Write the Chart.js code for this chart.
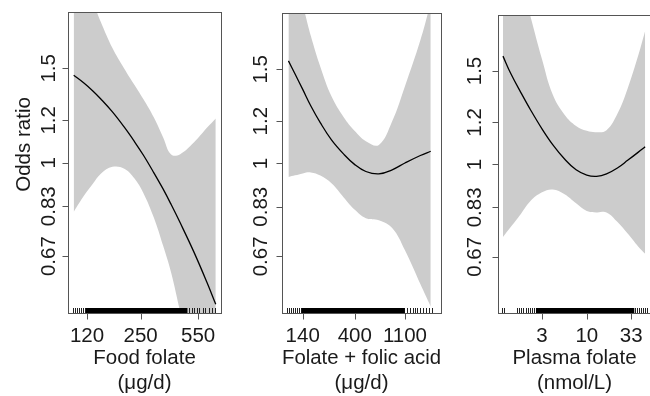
<!DOCTYPE html>
<html>
<head>
<meta charset="utf-8">
<script src="https://cdn.jsdelivr.net/npm/chart.js@4"></script>
<style>
  html, body { margin: 0; padding: 0; background: #fff; overflow: hidden; }
  #wrap { position: relative; width: 650px; height: 396px; overflow: hidden; }
  canvas { position: absolute; top: 0; }
</style>
</head>
<body>
<div id="wrap">
  <canvas id="food" width="230" height="396" style="left:0px"></canvas>
  <canvas id="total" width="225" height="396" style="left:225px"></canvas>
  <canvas id="plasma" width="220" height="396" style="left:440px"></canvas>
</div>
<script>
// odds ratio axis (log)
const yTicks = [0.67, 0.83, 1, 1.2, 1.5];
const yRange = [0.525, 1.91];

// food folate (µg/d)
const foodX = [100, 115, 130, 145, 170, 200, 230, 260, 300, 340, 380, 430, 520, 620, 700];
const foodOR = [1.456, 1.408, 1.361, 1.315, 1.244, 1.165, 1.095, 1.033, 0.958, 0.894, 0.836, 0.773, 0.681, 0.599, 0.545];
const foodUpper = [2.45, 2.19, 1.995, 1.83, 1.637, 1.498, 1.396, 1.313, 1.214, 1.116, 1.036, 1.038, 1.092, 1.162, 1.21];
const foodLower = [0.81, 0.868, 0.914, 0.954, 0.983, 0.975, 0.935, 0.878, 0.79, 0.701, 0.624, 0.528, 0.415, 0.36, 0.33];
const foodTicks = [120, 250, 550];
const foodRange = [92.5, 752];
const foodRug = [99, 102, 105, 108, 111, 114, 116.5, 487, 506, 522, 539, 559, 586, 607, 636, 662, 693];
const foodRugDense = [118, 475];

// folate + folic acid (µg/d)
const totalX = [105, 120, 140, 165, 200, 250, 320, 400, 500, 650, 850, 1100, 1500, 1850];
const totalOR = [1.556, 1.47, 1.376, 1.281, 1.191, 1.107, 1.041, 0.995, 0.966, 0.956, 0.973, 1.002, 1.035, 1.054];
const totalUpper = [2.44, 2.21, 1.98, 1.732, 1.516, 1.336, 1.221, 1.15, 1.101, 1.083, 1.199, 1.395, 1.7, 2.0];
const totalLower = [0.943, 0.95, 0.958, 0.962, 0.949, 0.918, 0.864, 0.819, 0.79, 0.783, 0.757, 0.688, 0.595, 0.54];
const totalTicks = [140, 400, 1100];
const totalRange = [92.2, 2275];
const totalRug = [102.6, 106.8, 111.3, 115.8, 120.6, 125.6, 130.7, 134.5, 1140, 1218, 1286, 1347, 1411, 1490, 1573, 1671, 1775, 1886];
const totalRugDense = [137, 1100];

// plasma folate (nmol/L)
const plasmaX = [1.05, 1.3, 1.7, 2.2, 3, 4, 5.5, 7.5, 10, 13, 17, 23, 30, 40, 48];
const plasmaOR = [1.6, 1.482, 1.366, 1.268, 1.167, 1.09, 1.024, 0.977, 0.955, 0.95, 0.96, 0.986, 1.018, 1.055, 1.08];
const plasmaUpper = [3.0, 2.62, 2.22, 1.9, 1.578, 1.354, 1.241, 1.182, 1.157, 1.15, 1.16, 1.25, 1.391, 1.608, 1.785];
const plasmaLower = [0.73, 0.763, 0.807, 0.853, 0.886, 0.897, 0.879, 0.845, 0.817, 0.812, 0.812, 0.778, 0.741, 0.7, 0.679];
const plasmaTicks = [3, 10, 33];
const plasmaRange = [0.919, 56.2];
const plasmaRug = [1.02, 1.08, 1.52, 1.6, 1.69, 1.79, 1.95, 2.06, 2.17, 2.29, 2.42, 2.55, 36.8, 38.9, 41.0, 43.3, 45.7, 48.2, 50.9];
const plasmaRugDense = [2.55, 35.9];

const fontFamily = "'Liberation Sans', Arial, sans-serif";
Chart.defaults.font.family = fontFamily;
Chart.defaults.font.size = 20.5;
Chart.defaults.color = '#1a1a1a';

const bandColor = '#cccccc';
const boxColor = '#555';

// R-style box round the plot region, with the tick marks
const boxPlugin = {
  id: 'box',
  afterDraw(chart) {
    const a = chart.chartArea;
    const ctx = chart.ctx;
    const left = Math.round(a.left) + 0.5;
    const bottom = Math.round(a.bottom) + 0.5;
    ctx.save();
    ctx.strokeStyle = boxColor;
    ctx.lineWidth = 1;
    ctx.strokeRect(left, Math.round(a.top) + 0.5,
      Math.round(a.right - a.left), Math.round(a.bottom - a.top));
    ctx.beginPath();
    chart.scales.x.ticks.forEach(t => {
      const px = Math.round(chart.scales.x.getPixelForValue(t.value)) + 0.5;
      ctx.moveTo(px, bottom);
      ctx.lineTo(px, bottom + 6);
    });
    chart.scales.y.ticks.forEach(t => {
      const py = Math.round(chart.scales.y.getPixelForValue(t.value)) + 0.5;
      ctx.moveTo(left, py);
      ctx.lineTo(left - 6, py);
    });
    ctx.stroke();
    ctx.restore();
  }
};

// rug of observations along the x axis
const rugPlugin = {
  id: 'rug',
  afterDatasetsDraw(chart, args, opts) {
    const ctx = chart.ctx;
    const x = chart.scales.x;
    const bottom = chart.chartArea.bottom;
    const h = 5;
    ctx.save();
    ctx.strokeStyle = '#222';
    ctx.lineWidth = 1;
    ctx.beginPath();
    opts.values.forEach(v => {
      const px = Math.round(x.getPixelForValue(v)) + 0.5;
      ctx.moveTo(px, bottom);
      ctx.lineTo(px, bottom - h);
    });
    ctx.stroke();
    const a = x.getPixelForValue(opts.dense[0]);
    const b = x.getPixelForValue(opts.dense[1]);
    ctx.fillStyle = '#000';
    ctx.fillRect(a, bottom - h, b - a, h);
    ctx.restore();
  }
};

// y axis title, placed a little above the middle of the axis as in the original
const yTitlePlugin = {
  id: 'yTitle',
  afterDraw(chart, args, opts) {
    if (!opts.text) return;
    const ctx = chart.ctx;
    const a = chart.chartArea;
    ctx.save();
    ctx.translate(opts.x, a.top + (a.bottom - a.top) * opts.pos);
    ctx.rotate(-Math.PI / 2);
    ctx.textAlign = 'center';
    ctx.textBaseline = 'middle';
    ctx.fillStyle = Chart.defaults.color;
    ctx.font = '20.5px ' + fontFamily;
    ctx.fillText(opts.text, 0, 0);
    ctx.restore();
  }
};

function points(xs, ys) {
  return xs.map((x, i) => ({ x: x, y: ys[i] }));
}

function makePanel(id, xs, or, lower, upper, xTicks, xRange, rug, rugDense, xTitle, yWidth, yTitle, yPad) {
  new Chart(document.getElementById(id), {
    type: 'line',
    data: {
      datasets: [
        {
          data: points(xs, or),
          fill: false,
          borderColor: '#000',
          borderWidth: 1.3,
          pointRadius: 0,
          tension: 0.4
        },
        {
          data: points(xs, upper),
          fill: '+1',
          backgroundColor: bandColor,
          borderColor: 'transparent',
          borderWidth: 0,
          pointRadius: 0,
          tension: 0.4
        },
        {
          data: points(xs, lower),
          fill: false,
          borderColor: 'transparent',
          borderWidth: 0,
          pointRadius: 0,
          tension: 0.4
        }
      ]
    },
    options: {
      responsive: false,
      animation: false,
      events: [],
      layout: { padding: { top: 12, right: 9, left: 0, bottom: 0 } },
      plugins: {
        legend: { display: false },
        tooltip: { enabled: false },
        rug: { values: rug, dense: rugDense },
        yTitle: { text: yTitle, x: 24, pos: 0.44 }
      },
      scales: {
        x: {
          type: 'logarithmic',
          min: xRange[0],
          max: xRange[1],
          afterBuildTicks: scale => { scale.ticks = xTicks.map(v => ({ value: v })); },
          afterFit: scale => { scale.height = 83; },
          border: { display: false },
          grid: { display: false, drawTicks: false, tickLength: 6 },
          ticks: {
            autoSkip: false,
            maxRotation: 0,
            minRotation: 0,
            padding: 11,
            callback: v => String(v)
          },
          title: {
            display: true,
            text: xTitle,
            font: { size: 20.5, lineHeight: 1.24 },
            padding: { top: 0, bottom: 0 }
          }
        },
        y: {
          type: 'logarithmic',
          min: yRange[0],
          max: yRange[1],
          afterBuildTicks: scale => { scale.ticks = yTicks.map(v => ({ value: v })); },
          afterFit: scale => { scale.width = yWidth; },
          border: { display: false },
          grid: { display: false, drawTicks: false, tickLength: 6 },
          ticks: {
            autoSkip: false,
            minRotation: 90,
            maxRotation: 90,
            crossAlign: 'center',
            padding: yPad,
            callback: v => String(v)
          }
        }
      }
    },
    plugins: [boxPlugin, rugPlugin, yTitlePlugin]
  });
}

makePanel('food', foodX, foodOR, foodLower, foodUpper, foodTicks, foodRange, foodRug, foodRugDense,
  ['Food folate', '(\u03bcg/d)'], 68, 'Odds ratio', -1);
makePanel('total', totalX, totalOR, totalLower, totalUpper, totalTicks, totalRange, totalRug, totalRugDense,
  ['Folate + folic acid', '(\u03bcg/d)'], 57, '', 1);
makePanel('plasma', plasmaX, plasmaOR, plasmaLower, plasmaUpper, plasmaTicks, plasmaRange, plasmaRug, plasmaRugDense,
  ['Plasma folate', '(nmol/L)'], 58, '', 3);
</script>
</body>
</html>
